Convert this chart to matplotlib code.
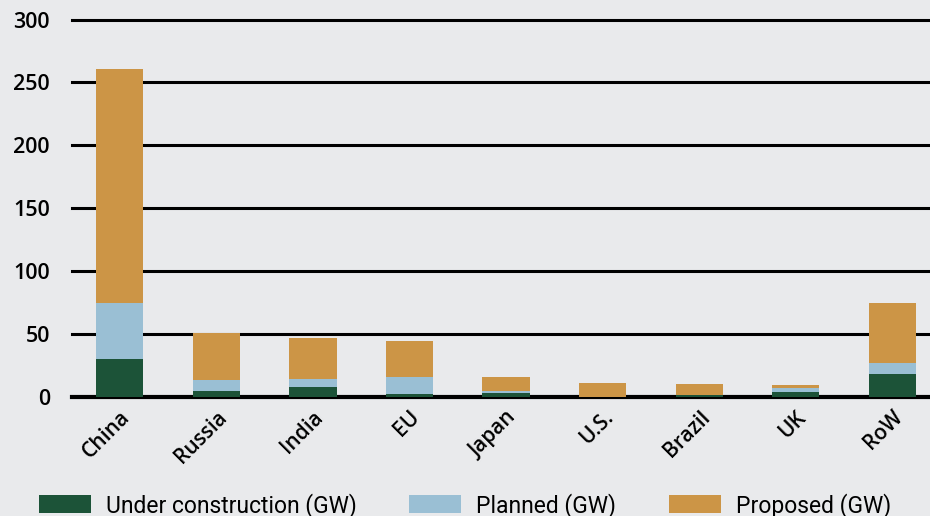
import numpy as np
import matplotlib.pyplot as plt

countries = ['China', 'Russia', 'India', 'EU', 'Japan', 'U.S.', 'Brazil', 'UK', 'RoW']
under_construction = [30, 4.8, 8, 2.4, 3, 0, 1.5, 4, 18.3]
planned = [44.7, 8.7, 6.3, 13.6, 1.8, 0.3, 0, 3, 8.7]
proposed = [186, 37.5, 32.7, 28.5, 11.2, 10.7, 8.8, 2.5, 47.7]
yticks = [0, 50, 100, 150, 200, 250, 300]

bg = '#e9eaec'
c_green = '#1c5338'
c_blue = '#9abfd4'
c_tan = '#cc9546'

fig = plt.figure(figsize=(9.3, 5.16), dpi=100, facecolor=bg)
ax = fig.add_axes([0.0774, 0.2306, 0.9226, 0.7316], facecolor=bg)

x = np.arange(len(countries))
uc = np.array(under_construction)
pl = np.array(planned)
pr = np.array(proposed)

# gridlines under the bars
for t in yticks:
    ax.axhline(t, color='black', lw=2.2 if t > 0 else 3, zorder=1, clip_on=False)

w = 0.49
ax.bar(x, uc, w, color=c_green, label='Under construction (GW)', zorder=2)
ax.bar(x, pl, w, bottom=uc, color=c_blue, label='Planned (GW)', zorder=2)
ax.bar(x, pr, w, bottom=uc + pl, color=c_tan, label='Proposed (GW)', zorder=2)

ax.set_xlim(-0.495, 8.39)
ax.set_ylim(0, 300)
ax.set_yticks(yticks)
ax.set_yticklabels([str(t) for t in yticks], fontsize=15.5, fontweight='semibold',
                   family=['Open Sans', 'DejaVu Sans'])
ax.set_xticks(x)
ax.set_xticklabels(countries, rotation=45, ha='right', rotation_mode='anchor',
                   fontsize=15, fontweight='semibold', family=['Open Sans', 'DejaVu Sans'])
ax.tick_params(axis='both', length=0)
ax.tick_params(axis='y', pad=16)
ax.tick_params(axis='x', pad=7)
for s in ax.spines.values():
    s.set_visible(False)

leg = fig.legend(loc='lower center', bbox_to_anchor=(0.5, -0.043), ncol=3, frameon=False,
                 prop={'family': 'Roboto', 'size': 16.5}, handlelength=2.27, handleheight=0.85,
                 columnspacing=2.3, handletextpad=0.65)

fig.savefig('out.png', dpi=100, facecolor=bg)
